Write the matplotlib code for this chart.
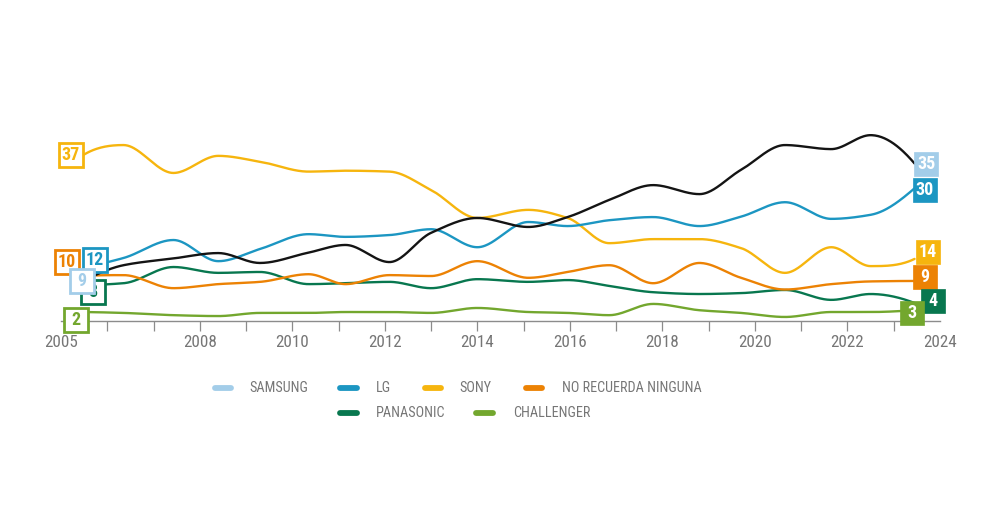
import numpy as np
import matplotlib
matplotlib.use("Agg")
import matplotlib.pyplot as plt
from matplotlib.lines import Line2D
from matplotlib.transforms import offset_copy

plt.rcParams['font.family'] = ['Roboto Condensed', 'Liberation Sans Narrow', 'Open Sans Condensed',
                               'DejaVu Sans Condensed', 'Liberation Sans', 'DejaVu Sans']

# ---------------- data ----------------
years = [2005.5, 2006.35, 2007.43, 2008.4, 2009.3, 2010.35, 2011.15, 2012.1, 2013.0,
         2014.0, 2015.1, 2015.95, 2016.85, 2017.8, 2018.8, 2019.7, 2020.65, 2021.65,
         2022.5, 2023.45]

samsung = [9, 12.4, 13.9, 15.1, 12.9, 15.2, 16.9, 13.1, 19.6, 22.9, 20.9, 23.1, 26.9,
           30.2, 28.2, 33.6, 39.1, 38.2, 41.3, 35.0]
lg = [12, 14.0, 18.0, 13.3, 16.0, 19.3, 18.7, 19.1, 20.4, 16.4, 22.0, 21.1, 22.4,
      23.1, 21.1, 23.2, 26.4, 22.7, 23.6, 29.5]
sony = [37, 39.1, 32.9, 36.7, 35.4, 33.2, 33.4, 33.2, 29.1, 22.9, 24.7, 22.9, 17.3,
        18.2, 18.2, 16.2, 10.7, 16.4, 12.2, 13.8]
no_recuerda = [10, 10.2, 7.3, 8.2, 8.7, 10.4, 8.2, 10.2, 10.0, 13.3, 9.6, 10.9, 12.4,
               8.4, 12.9, 9.6, 7.0, 8.2, 8.8, 8.9]
panasonic = [8, 8.4, 12.0, 10.7, 10.9, 8.2, 8.4, 8.7, 7.3, 9.3, 8.7, 9.1, 7.8, 6.4,
             6.0, 6.2, 6.9, 4.7, 6.0, 4.0]
challenger = [2.0, 1.8, 1.3, 1.1, 1.8, 1.8, 2.0, 2.0, 1.8, 2.9, 2.0, 1.8, 1.3, 3.8,
              2.4, 1.8, 0.9, 2.0, 2.0, 2.4]

series_names = ['SAMSUNG', 'LG', 'SONY', 'NO RECUERDA NINGUNA', 'PANASONIC', 'CHALLENGER']
start_labels = ['9', '12', '37', '10', '8', '2']
end_labels = ['35', '30', '14', '9', '4', '3']

tick_years = list(range(2005, 2025))
label_years = [2005, 2008, 2010, 2012, 2014, 2016, 2018, 2020, 2022, 2024]

# ---------------- style ----------------
legend_colors = ['#a3cde9', '#1c96c2', '#f6b50e', '#ec8204', '#08774f', '#73a72e']
line_colors = ['#141414', '#1c96c2', '#f6b50e', '#ec8204', '#08774f', '#73a72e']
grey = '#767676'


def pchip(x, y, xs):
    x = np.asarray(x, float)
    y = np.asarray(y, float)
    h = np.diff(x)
    delta = np.diff(y) / h
    n = len(x)
    d = np.zeros(n)
    for k in range(1, n - 1):
        if delta[k - 1] * delta[k] > 0:
            w1 = 2 * h[k] + h[k - 1]
            w2 = h[k] + 2 * h[k - 1]
            d[k] = (w1 + w2) / (w1 / delta[k - 1] + w2 / delta[k])
    def end(h0, h1, d0, d1):
        v = ((2 * h0 + h1) * d0 - h0 * d1) / (h0 + h1)
        if np.sign(v) != np.sign(d0):
            v = 0.0
        elif np.sign(d0) != np.sign(d1) and abs(v) > abs(3 * d0):
            v = 3 * d0
        return v
    d[0] = end(h[0], h[1], delta[0], delta[1])
    d[-1] = end(h[-1], h[-2], delta[-1], delta[-2])
    idx = np.clip(np.searchsorted(x, xs) - 1, 0, n - 2)
    t = (xs - x[idx]) / h[idx]
    h00 = 2 * t**3 - 3 * t**2 + 1
    h10 = t**3 - 2 * t**2 + t
    h01 = -2 * t**3 + 3 * t**2
    h11 = t**3 - t**2
    return h00 * y[idx] + h10 * h[idx] * d[idx] + h01 * y[idx + 1] + h11 * h[idx] * d[idx + 1]


fig = plt.figure(figsize=(10, 5.3), dpi=100)
ax = fig.add_axes([0.061, 0.3943, 0.879, 0.3821])
ax.set_xlim(2005, 2024)
ax.set_ylim(0, 45)

data = [samsung, lg, sony, no_recuerda, panasonic, challenger]
xs = np.linspace(years[0], years[-1], 800)
draw_order = [5, 4, 3, 2, 1, 0]
for i in draw_order:
    ax.plot(xs, pchip(years, data[i], xs), color=line_colors[i], lw=1.7,
            solid_capstyle='round', zorder=3 + (5 - i) * 0.1, clip_on=False)

# axis styling
for s in ['left', 'right', 'top']:
    ax.spines[s].set_visible(False)
ax.spines['bottom'].set_color('#8c8c8c')
ax.spines['bottom'].set_linewidth(1.0)
ax.set_yticks([])
ax.set_xticks(tick_years)
ax.set_xticklabels([str(y) if y in label_years else '' for y in tick_years])
ax.tick_params(axis='x', length=7.5, width=0.9, color='#8c8c8c', labelcolor=grey,
               labelsize=12.3, pad=2.5)
for t in ax.xaxis.get_major_ticks():
    if t.get_loc() in (2005, 2024):
        t.tick1line.set_visible(False)

# ---------------- value labels ----------------
start_offsets = [(-2, 0), (11, 7), (-13.5, 0), (-17, 14), (9, -7), (-8, -8)]
end_offsets = [(11.5, 0), (10, -2), (13.5, 6.5), (10, 4), (18, 2.5), (-3, -2.3)]
start_order = [3, 4, 1, 0, 2, 5]
for i in start_order:
    tr = offset_copy(ax.transData, fig=fig, x=start_offsets[i][0], y=start_offsets[i][1], units='dots')
    z = 10 + start_order.index(i)
    ax.plot([years[0]], [data[i][0]], marker='s', ms=17.5, mfc='white', mec=legend_colors[i],
            mew=2.0, transform=tr, clip_on=False, zorder=z)
    ax.text(years[0], data[i][0], start_labels[i], transform=tr, ha='center', va='center',
            color=legend_colors[i], fontsize=13, fontweight='bold', zorder=z + 0.5, clip_on=False)

end_order = [2, 3, 0, 1, 4, 5]
for i in end_order:
    tr = offset_copy(ax.transData, fig=fig, x=end_offsets[i][0], y=end_offsets[i][1], units='dots')
    z = 20 + end_order.index(i)
    ax.plot([years[-1]], [data[i][-1]], marker='s', ms=17.5, mfc=legend_colors[i],
            mec=legend_colors[i], mew=0.5, transform=tr, clip_on=False, zorder=z)
    ax.text(years[-1], data[i][-1], end_labels[i], transform=tr, ha='center', va='center',
            color='white', fontsize=13, fontweight='bold', zorder=z + 0.5, clip_on=False)

# ---------------- legend (manual layout) ----------------
leg_rows = [388, 388, 388, 388, 413, 413]
leg_handle_x = [(214.5, 230.5), (339.5, 356.5), (424.5, 440.5), (525.5, 542), (339.5, 356.5), (475.5, 493)]
leg_text_x = [249, 376, 459, 562, 376, 513]
W, H = 1000.0, 530.0
for i, name in enumerate(series_names):
    yf = (H - leg_rows[i]) / H
    fig.add_artist(Line2D([leg_handle_x[i][0] / W, leg_handle_x[i][1] / W], [yf, yf],
                          transform=fig.transFigure, color=legend_colors[i], lw=4.2,
                          solid_capstyle='round'))
    fig.text(leg_text_x[i] / W, yf, name, ha='left', va='center', color=grey, fontsize=10.2)

fig.savefig('out.png', dpi=100, facecolor='white')
